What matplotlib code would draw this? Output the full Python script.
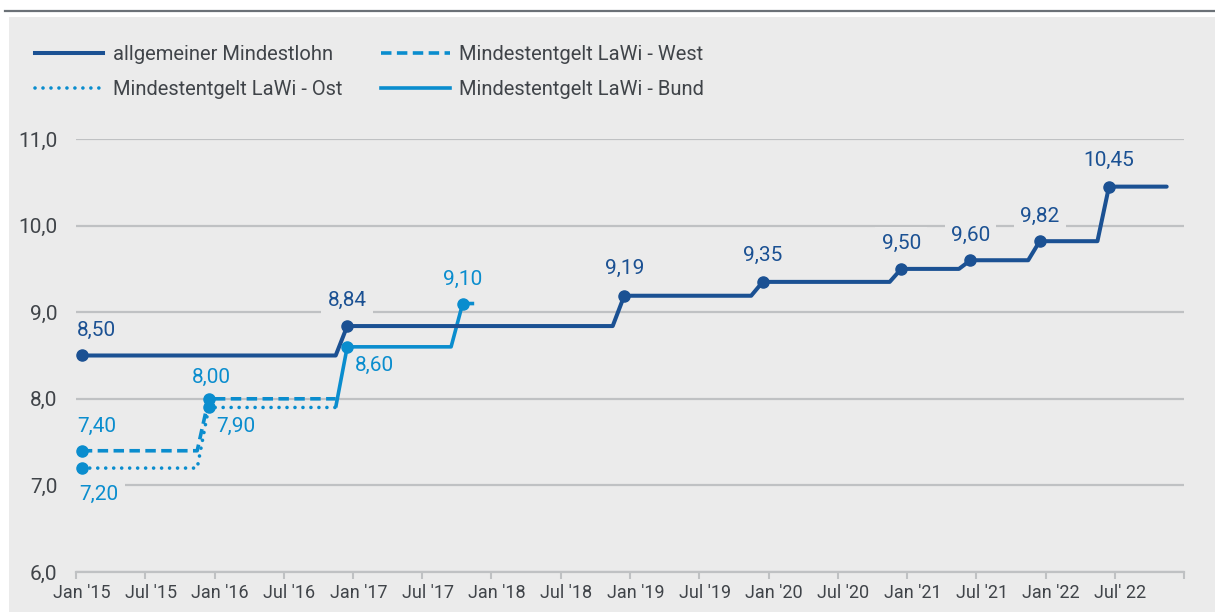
import numpy as np
import pandas as pd
import matplotlib
matplotlib.use("Agg")
import matplotlib.pyplot as plt
from matplotlib.lines import Line2D
from matplotlib.patches import Rectangle

# ---------------- data ----------------
months = pd.date_range("2015-01-01", periods=96, freq="MS")
tick_labels = ["Jan '15", "Jul '15", "Jan '16", "Jul '16", "Jan '17", "Jul '17",
               "Jan '18", "Jul '18", "Jan '19", "Jul '19", "Jan '20", "Jul '20",
               "Jan '21", "Jul '21", "Jan '22", "Jul' 22"]

# step series: value of each level and number of months it is held
mindestlohn_values = [8.50, 8.84, 9.19, 9.35, 9.50, 9.60, 9.82, 10.45]
mindestlohn_counts = [23, 24, 12, 12, 6, 6, 6, 6]
mindestlohn_start = 0

west_values = [7.40, 8.00]
west_counts = [11, 12]
west_start = 0

ost_values = [7.20, 7.90]
ost_counts = [11, 12]
ost_start = 0

bund_values = [7.90, 8.60, 9.10]
bund_counts = [1, 10, 2]
bund_start = 22

labels_de = ["allgemeiner Mindestlohn", "Mindestentgelt LaWi - West",
             "Mindestentgelt LaWi - Ost", "Mindestentgelt LaWi - Bund"]

# ---------------- style ----------------
DARK = "#1b5193"
LIGHT = "#0a8dce"
BG = "#ebebeb"
GRID = "#bfc1c3"
TXT = "#404449"
FONT = "Roboto"
plt.rcParams["font.family"] = [FONT, "DejaVu Sans"]

W, H = 1215, 612
fig = plt.figure(figsize=(W / 100, H / 100), dpi=100)
fig.patch.set_facecolor("white")
fig.add_artist(Rectangle((9 / W, 0), 1 - 9 / W, 1 - 17 / H, transform=fig.transFigure,
                         facecolor=BG, edgecolor="none", zorder=0))
fig.add_artist(Line2D([5 / W, 1], [1 - 11 / H, 1 - 11 / H], transform=fig.transFigure,
                      color="#6b7177", lw=1.6, zorder=1))

ax = fig.add_axes([76 / W, 1 - 572 / H, (1184 - 76) / W, (572 - 139) / H])
ax.set_facecolor("none")

def build(start, values, counts):
    y = np.repeat(values, counts)
    x = np.arange(start, start + len(y))
    firsts = start + np.concatenate([[0], np.cumsum(counts)[:-1]])
    return x, y, firsts

LW = 2.6
xm, ym, fm = build(mindestlohn_start, mindestlohn_values, mindestlohn_counts)
xw, yw, fw = build(west_start, west_values, west_counts)
xo, yo, fo = build(ost_start, ost_values, ost_counts)
xb, yb, fb = build(bund_start, bund_values, bund_counts)

ax.plot(xo, yo, color=LIGHT, lw=LW, linestyle=(0, (0.01, 2.2)),
        dash_capstyle="round", zorder=4)
ax.plot(xw, yw, color=LIGHT, lw=LW, linestyle=(0, (2.9, 1.5)), zorder=4)
ax.plot(xb, yb, color=LIGHT, lw=LW, solid_capstyle="butt", zorder=4)
ax.plot(xm, ym, color=DARK, lw=LW + 0.3, solid_capstyle="round", zorder=5)

MS = 8
ax.plot(fo, np.array(ost_values), "o", color=LIGHT, ms=MS, zorder=6)
ax.plot(fw, np.array(west_values), "o", color=LIGHT, ms=MS, zorder=6)
ax.plot(fb[1:], np.array(bund_values[1:]), "o", color=LIGHT, ms=MS, zorder=6)
ax.plot(fm, np.array(mindestlohn_values), "o", color=DARK, ms=MS, zorder=7)

def fmt(v):
    return f"{v:.2f}".replace(".", ",")

def lab(x, y, color, dx, dy):
    ax.annotate(fmt(y), (x, y), xytext=(dx, dy), textcoords="offset pixels",
                ha="center", va="center", fontsize=15, color=color, zorder=3,
                bbox=dict(boxstyle="square,pad=0.3", facecolor=BG, edgecolor="none"))

# mindestlohn labels
m_off = [(15, 25), (0, 26), (0, 27), (0, 26), (0, 26), (0, 25), (0, 25), (0, 26)]
for xi, v, (dx, dy) in zip(fm, mindestlohn_values, m_off):
    lab(xi, v, DARK, dx, dy)
lab(fw[0], west_values[0], LIGHT, 15, 24)
lab(fw[1], west_values[1], LIGHT, 3, 21)
lab(fo[0], ost_values[0], LIGHT, 17, -26)
lab(fo[1], ost_values[1], LIGHT, 27, -19)
lab(fb[1], bund_values[1], LIGHT, 27, -19)
lab(fb[2], bund_values[2], LIGHT, 0, 24)

# axes
ax.set_xlim(-0.5, 95.5)
ax.set_ylim(6, 11)
ax.set_yticks(np.arange(6, 11.01, 1.0))
ax.set_yticklabels([f"{v:.1f}".replace(".", ",") for v in np.arange(6, 11.01, 1.0)],
                   fontsize=15, color=TXT)
ax.tick_params(axis="y", length=0, pad=13.5)
ax.grid(axis="y", color=GRID, lw=1.6, zorder=1)
ax.set_axisbelow(True)

ax.set_xticks(np.arange(-0.5, 96, 6))
ax.set_xticklabels([])
ax.set_xticks(np.arange(0, 96, 6), minor=True)
ax.set_xticklabels(tick_labels, minor=True, fontsize=13, color=TXT)
ax.tick_params(axis="x", which="major", length=5, width=1.5, color=GRID, direction="out")
ax.tick_params(axis="x", which="minor", length=0, pad=9)
for s in ["top", "right", "left"]:
    ax.spines[s].set_visible(False)
ax.spines["bottom"].set_color(GRID)
ax.spines["bottom"].set_linewidth(1.6)

# legend
handles = [
    Line2D([], [], color=DARK, lw=LW + 0.3),
    Line2D([], [], color=LIGHT, lw=LW, linestyle=(0, (2.9, 1.5))),
    Line2D([], [], color=LIGHT, lw=LW, linestyle=(0, (0.01, 2.2)), dash_capstyle="round"),
    Line2D([], [], color=LIGHT, lw=LW),
]
order = [0, 2, 1, 3]
leg = fig.legend([handles[i] for i in order], [labels_de[i] for i in order],
                 loc="upper left", bbox_to_anchor=(35 / W, 1 - 45 / H), ncol=2,
                 frameon=False, fontsize=14.5, handlelength=3.4, handletextpad=0.45,
                 columnspacing=1.95, labelspacing=0.8, borderpad=0, borderaxespad=0)
for t in leg.get_texts():
    t.set_color(TXT)

fig.savefig("out.png", dpi=100, facecolor=fig.get_facecolor())
